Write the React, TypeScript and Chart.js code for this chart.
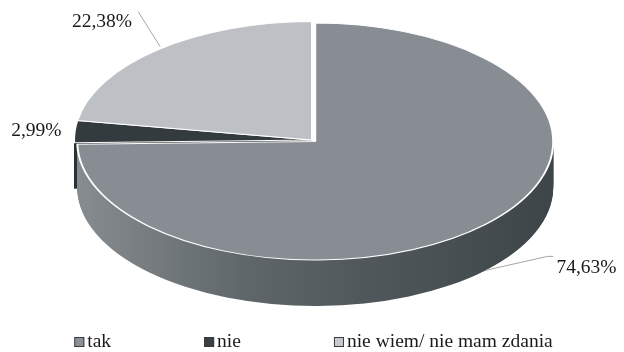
import React, { useEffect, useRef } from 'react';
import { Chart, registerables } from 'chart.js';

Chart.register(...registerables);

// ---- data ----
const labels = ['tak', 'nie', 'nie wiem/ nie mam zdania'];
const values = [74.63, 2.99, 22.38];
const topColors = ['#878d93', '#343b3e', '#bdc1c6'];
const sideColors = ['#545c5f', '#2b3133', '#9ea3a8'];
const legendColors = ['#8c9197', '#3a4043', '#c6c9cd'];
const explode = [4.5, 0, 0];

// ---- layout ----
const W = 624;
const H = 352;
const CX = 312;
const CY = 140;
const RX = 238;
const RY = 118.5;
const DEPTH = 46;
const FONT = '"Liberation Serif", "Times New Roman", serif';
const FONT_SIZE = 19.5;

function fmt(v: number, total: number) {
  return ((v / total) * 100).toFixed(2).replace('.', ',') + '%';
}

function applyTransform(ctx: CanvasRenderingContext2D, chart: any, dy: number) {
  const arc = chart.getDatasetMeta(0).data[0];
  const k = RY / RX;
  ctx.translate(CX - arc.x, CY + dy);
  ctx.scale(1, k);
  ctx.translate(0, -arc.y);
}

function drawEl(ctx: CanvasRenderingContext2D, el: any, i: number, override?: any) {
  const mid = (el.startAngle + el.endAngle) / 2;
  ctx.save();
  ctx.translate(Math.cos(mid) * explode[i], Math.sin(mid) * explode[i]);
  const saved = el.options;
  if (override) el.options = Object.assign({}, saved, override);
  el.draw(ctx);
  el.options = saved;
  ctx.restore();
}

const pie3d = {
  id: 'pie3d',
  beforeDatasetsDraw(chart: any) {
    const ctx: CanvasRenderingContext2D = chart.ctx;
    const arcs = chart.getDatasetMeta(0).data;
    const cx = arcs[0].x;
    const grad = ctx.createLinearGradient(cx - RX, 0, cx + RX, 0);
    grad.addColorStop(0, '#878c90');
    grad.addColorStop(0.35, '#5f676a');
    grad.addColorStop(0.6, '#50585b');
    grad.addColorStop(1, '#3d4548');
    for (let d = DEPTH; d >= 1; d--) {
      ctx.save();
      applyTransform(ctx, chart, d);
      arcs.forEach((el: any, i: number) => {
        drawEl(ctx, el, i, { backgroundColor: i === 0 ? grad : sideColors[i], borderWidth: 0 });
      });
      ctx.restore();
    }
    ctx.save();
    applyTransform(ctx, chart, 0);
    arcs.forEach((el: any, i: number) => drawEl(ctx, el, i));
    ctx.restore();
    return false;
  },
  afterDraw(chart: any) {
    const ctx: CanvasRenderingContext2D = chart.ctx;
    const arcs = chart.getDatasetMeta(0).data;
    const total = values.reduce((a, b) => a + b, 0);
    ctx.save();
    ctx.font = `${FONT_SIZE}px ${FONT}`;
    ctx.fillStyle = '#1a1a1a';
    ctx.textBaseline = 'middle';
    ctx.strokeStyle = '#a6a6a6';
    ctx.lineWidth = 1;
    arcs.forEach((el: any, i: number) => {
      const mid = (el.startAngle + el.endAngle) / 2;
      const px = CX + (RX + explode[i]) * Math.cos(mid);
      const py = CY + (RY + explode[i] * RY / RX) * Math.sin(mid);
      const txt = fmt(values[i], total);
      if (i === 0) {
        const sx = px;
        const sy = py + DEPTH;
        const ex = sx + 62;
        const ey = sy - 14;
        ctx.beginPath();
        ctx.moveTo(sx, sy);
        ctx.lineTo(ex, ey);
        ctx.lineTo(ex + 6, ey);
        ctx.stroke();
        ctx.textAlign = 'left';
        ctx.fillText(txt, ex + 9, ey + 11);
      } else if (i === 2) {
        const sx = px + 2;
        const sy = py - 3;
        const ex = sx - 22;
        const ey = sy - 35;
        ctx.beginPath();
        ctx.moveTo(sx, sy);
        ctx.lineTo(ex, ey);
        ctx.stroke();
        ctx.textAlign = 'right';
        ctx.fillText(txt, ex - 6, ey + 10);
      } else {
        ctx.textAlign = 'right';
        ctx.fillText(txt, px - 13, py - 1);
      }
    });

    // legend
    const boxW = 10;
    const gapBox = 3;
    const spacing = 93;
    const widths = labels.map((l) => boxW + gapBox + ctx.measureText(l).width);
    const totalW = widths.reduce((a, b) => a + b, 0) + spacing * (labels.length - 1);
    let x = 313.5 - totalW / 2;
    const ly = 342;
    ctx.textAlign = 'left';
    labels.forEach((l, i) => {
      ctx.fillStyle = legendColors[i];
      ctx.fillRect(x, ly - 5, boxW, boxW);
      ctx.strokeStyle = '#3a3a3a';
      ctx.strokeRect(x + 0.5, ly - 4.5, boxW - 1, boxW - 1);
      ctx.fillStyle = '#1a1a1a';
      ctx.fillText(l, x + boxW + gapBox, ly);
      x += widths[i] + spacing;
    });
    ctx.restore();
  },
};

export default function App() {
  const ref = useRef<HTMLCanvasElement>(null);
  useEffect(() => {
    if (!ref.current) return;
    const chart = new Chart(ref.current, {
      type: 'pie',
      data: {
        labels,
        datasets: [
          {
            data: values,
            backgroundColor: topColors,
            borderColor: '#ffffff',
            borderWidth: 2,
            radius: RX,
            clip: false,
          } as any,
        ],
      },
      options: {
        responsive: false,
        animation: false,
        layout: { padding: 0 },
        plugins: {
          legend: { display: false },
          tooltip: { enabled: false },
        },
        events: [],
      },
      plugins: [pie3d],
    });
    return () => chart.destroy();
  }, []);
  return (
    <div style={{ position: 'fixed', left: 0, top: 0, width: W, height: H, background: '#fff' }}>
      <canvas ref={ref} width={W} height={H} style={{ display: 'block' }} />
    </div>
  );
}
